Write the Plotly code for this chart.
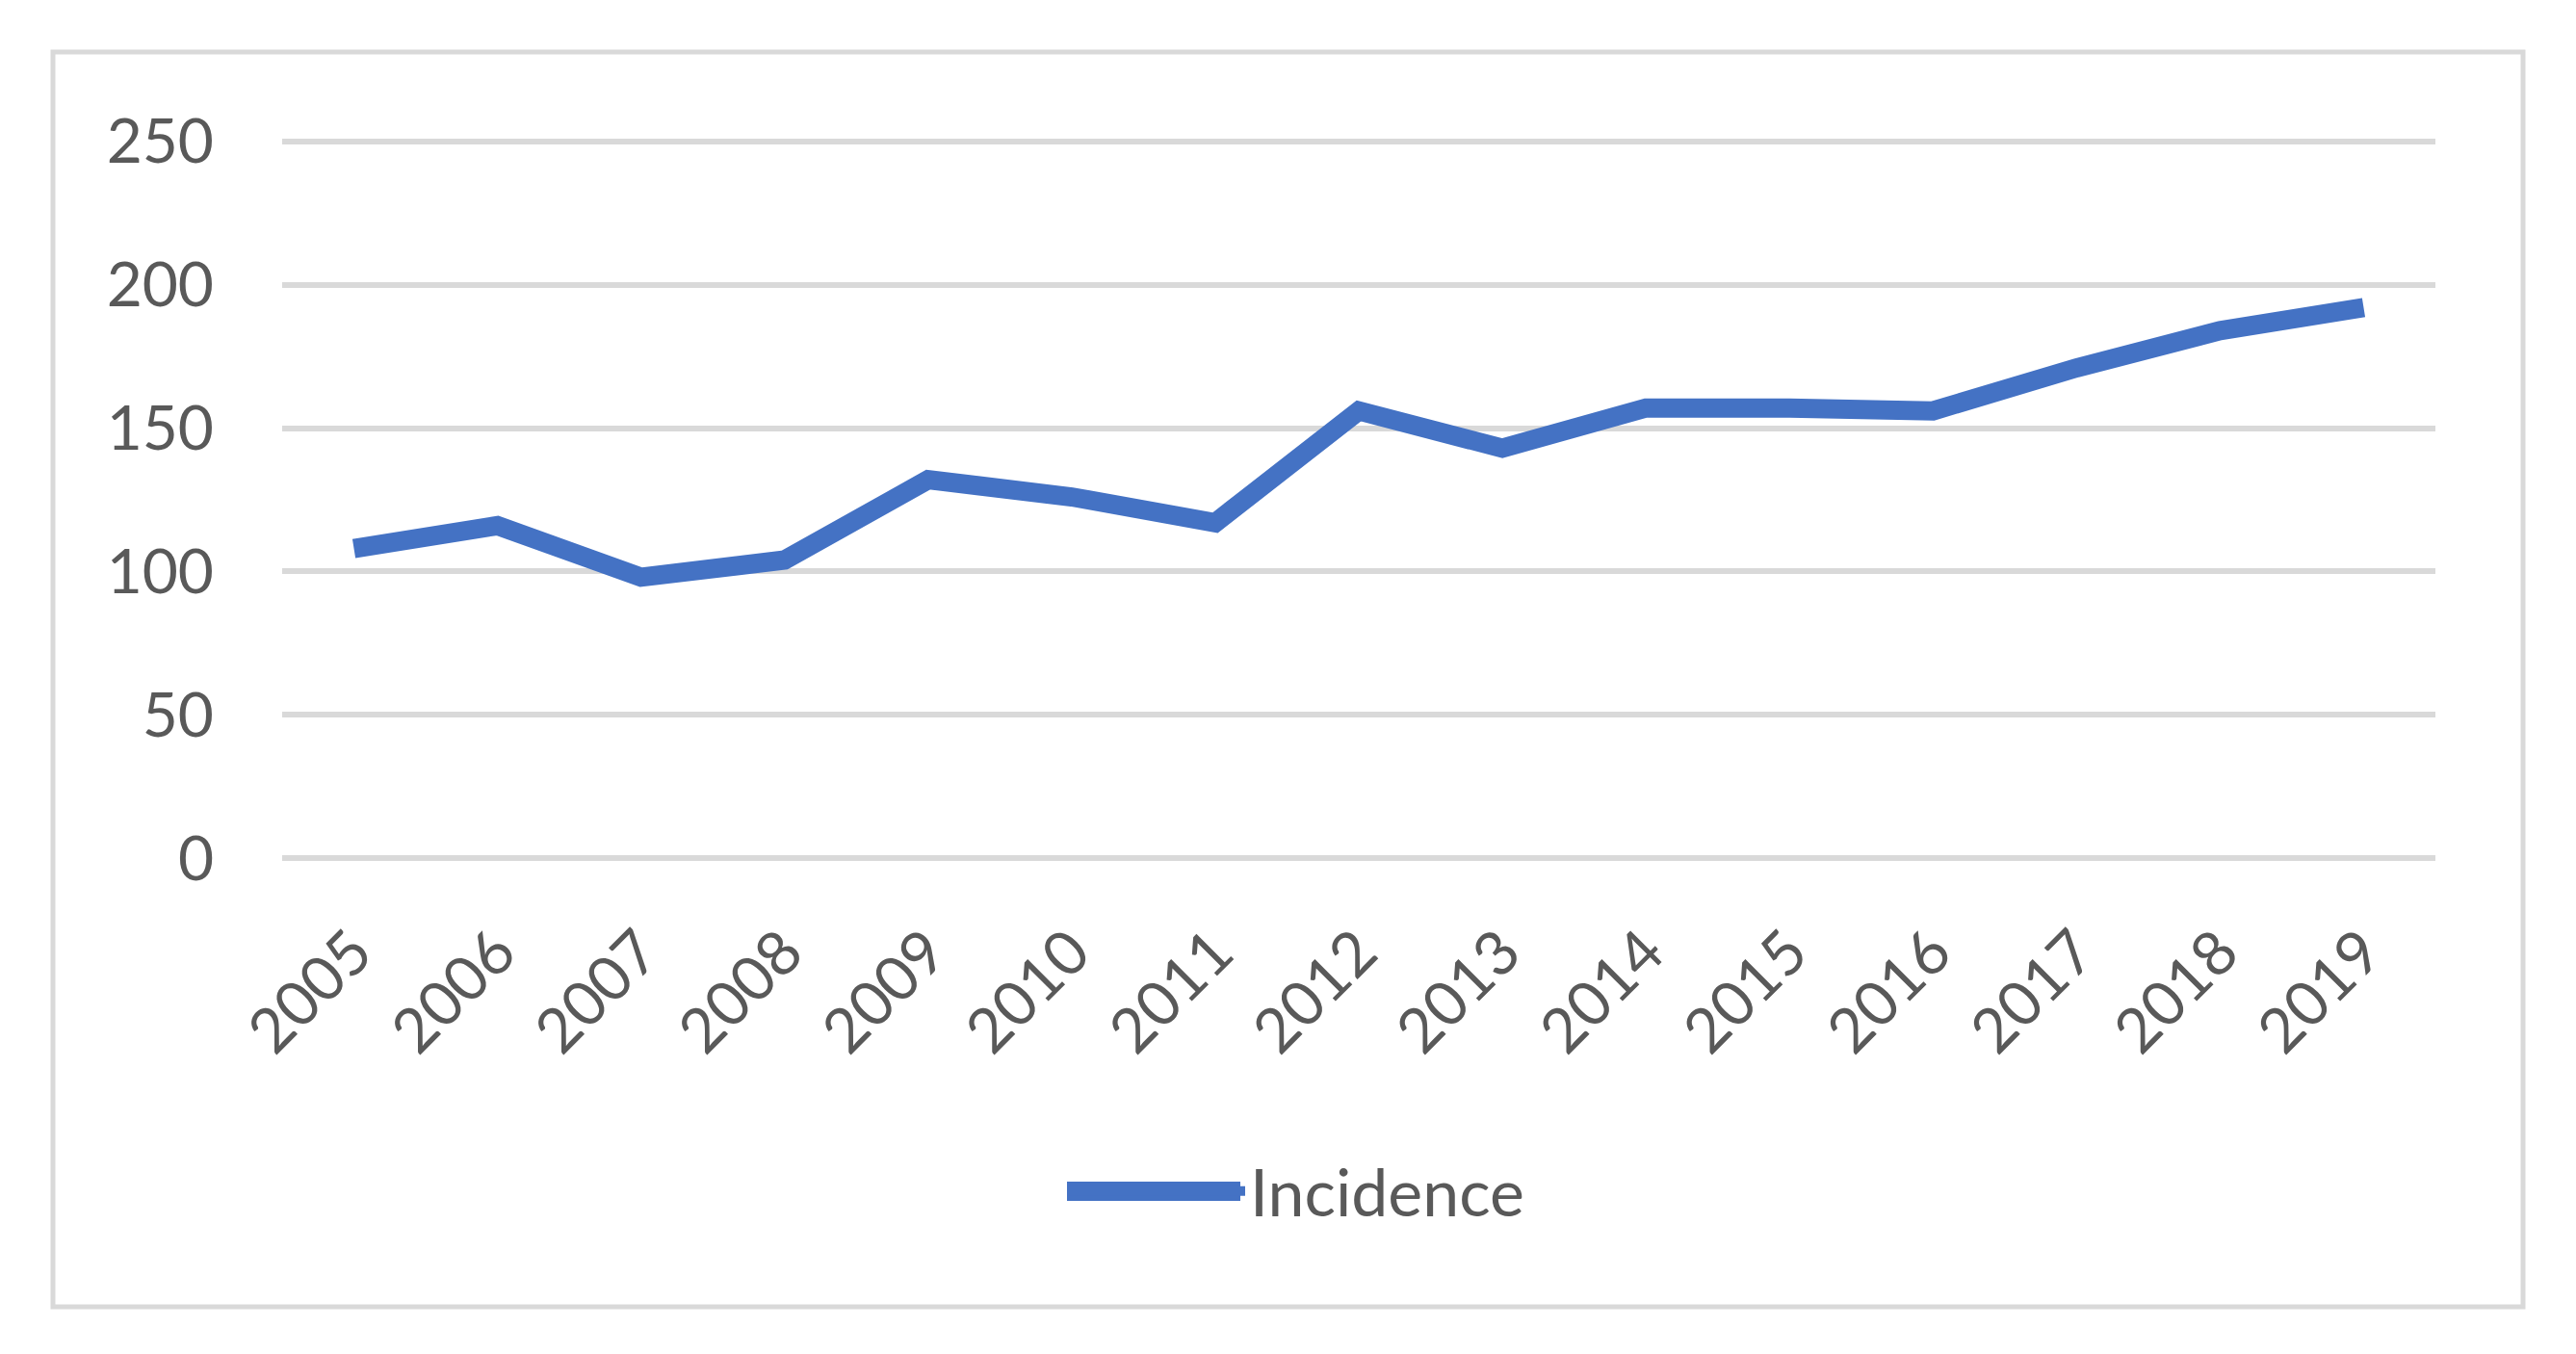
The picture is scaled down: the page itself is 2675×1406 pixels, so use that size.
import plotly.graph_objects as go

years = ["2005", "2006", "2007", "2008", "2009", "2010", "2011", "2012",
         "2013", "2014", "2015", "2016", "2017", "2018", "2019"]
incidence = [108, 116, 98, 104, 132, 126, 117, 156, 143, 157, 157, 156, 171, 184, 192]
y_ticks = [0, 50, 100, 150, 200, 250]

# page is 2675x1406; the html body adds an 8 px margin, so work in figure coords
OFF = 8
W, H = 2675 - 2 * OFF, 1406 - 2 * OFF
# plot area in page pixels: x 293..2529, y 145..893
L = 293 - OFF
R = W - (2529 - OFF)
T = 145 - OFF
B = H - (893 - OFF)
PW, PH = W - L - R, H - T - B

FONT = "Lato, Calibri, Carlito, sans-serif"
TXT = "#595959"
GRID = "#d9d9d9"
BLUE = "#4472c4"


def px(xpage):
    return (xpage - OFF - L) / PW


def py(ypage):
    return (H - B - (ypage - OFF)) / PH


LEG_X = 1104      # page x of legend box
LEG_Y = 1237      # page y of legend centre
ITEMW = 184

fig = go.Figure()
fig.add_trace(go.Scatter(
    x=years, y=incidence, mode="lines", name="Incidence",
    line=dict(color=BLUE, width=20),
))

fig.update_layout(
    width=W, height=H,
    margin=dict(l=L, r=R, t=T, b=B, pad=0),
    paper_bgcolor="white", plot_bgcolor="white",
    font=dict(family=FONT, size=63, color=TXT),
    showlegend=True,
    legend=dict(orientation="h", x=px(LEG_X), xanchor="left", y=py(LEG_Y), yanchor="middle",
                font=dict(family=FONT, size=68, color=TXT), itemwidth=ITEMW,
                bgcolor="rgba(0,0,0,0)", borderwidth=0),
    xaxis=dict(
        type="category", range=[-0.5, len(years) - 0.5], tickangle=-45,
        showgrid=False, zeroline=False,
        showline=False, ticks="", ticklabelstandoff=44,
        tickfont=dict(family=FONT, size=64, color=TXT),
    ),
    yaxis=dict(
        range=[-0.6, 250.6], tickvals=y_ticks, showgrid=True, gridcolor=GRID,
        gridwidth=6, zeroline=False, showline=False, ticks="",
        ticklabelstandoff=70,
        tickfont=dict(family=FONT, size=64, color=TXT),
    ),
    shapes=[
        dict(type="rect", xref="paper", yref="paper",
             x0=px(55), x1=px(2620), y0=py(1357), y1=py(54),
             line=dict(color=GRID, width=5), layer="below"),
        # thicken the legend sample to match the reference key
        dict(type="line", xref="paper", yref="paper",
             x0=px(LEG_X + 4), x1=px(LEG_X + ITEMW), y0=py(LEG_Y), y1=py(LEG_Y),
             line=dict(color=BLUE, width=20), layer="above"),
    ],
)

fig.write_html("out.html")
